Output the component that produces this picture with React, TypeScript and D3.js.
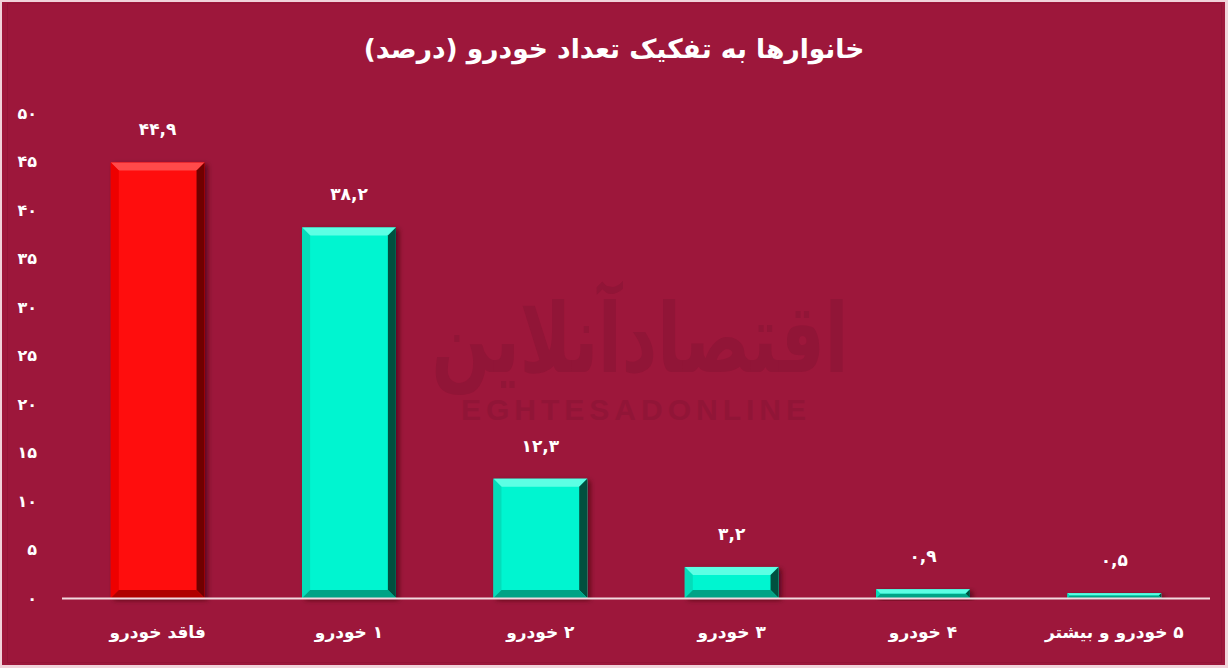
import React from "react";
import * as d3 from "d3";

const categories = ["فاقد خودرو", "۱ خودرو", "۲ خودرو", "۳ خودرو", "۴ خودرو", "۵ خودرو و بیشتر"];
const values = [44.9, 38.2, 12.3, 3.2, 0.9, 0.5];
const valueLabels = ["۴۴,۹", "۳۸,۲", "۱۲,۳", "۳,۲", "۰,۹", "۰,۵"];
const yTicks = [0, 5, 10, 15, 20, 25, 30, 35, 40, 45, 50];
const yTickLabels = ["۰", "۵", "۱۰", "۱۵", "۲۰", "۲۵", "۳۰", "۳۵", "۴۰", "۴۵", "۵۰"];
const highlight = [true, false, false, false, false, false];
const title = "خانوارها به تفکیک تعداد خودرو (درصد)";

const W = 1228;
const H = 668;
const BG = "#9d173b";
const FONT = "'DejaVu Sans', sans-serif";

export default function App() {
  const x = d3.scaleBand<number>().domain(d3.range(categories.length)).range([62, 1210]).paddingInner(0.51).paddingOuter(0.255);
  const y = d3.scaleLinear().domain([0, 50]).range([598, 113]);

  const pal = (hi: boolean) =>
    hi
      ? { main: "#ff0808", top: "#ff4a4a", left: "#ee0000", right: "#700000", bottom: "#b00000" }
      : { main: "#06f5d0", top: "#5cffe4", left: "#05dcba", right: "#00503f", bottom: "#01a386" };

  return (
    <svg width={W} height={H} style={{ position: "absolute", left: 0, top: 0 }} fontFamily={FONT}>
      <defs>
        <filter id="sh" x="-20%" y="-20%" width="150%" height="150%">
          <feDropShadow dx="3" dy="2" stdDeviation="2.5" floodColor="#3a0010" floodOpacity="0.7" />
        </filter>
      </defs>
      <rect x={0} y={0} width={W} height={H} fill="#f1d3da" />
      <rect x={2} y={2} width={W - 5} height={H - 5} fill={BG} />
      <rect x={7.5} y={3.5} width={W - 14} height={H - 9} fill="none" stroke="#8a1233" strokeWidth={1} opacity={0.5} />

      {/* watermark */}
      <g fill="#911537">
        <text x={0} y={0} textAnchor="middle" fontSize={96} fontWeight="bold" fontFamily={FONT} transform="translate(640,372) scale(0.72,1)">
          اقتصادآنلاین
        </text>
        <text x={636} y={420} textAnchor="middle" fontSize={30} fontWeight="bold" letterSpacing={5} fontFamily="'Liberation Sans', sans-serif">
          EGHTESADONLINE
        </text>
      </g>

      <text x={614} y={58} textAnchor="middle" fill="#ffffff" fontSize={26.5} fontWeight="bold" direction="rtl">
        {title}
      </text>

      {yTicks.map((t, i) => (
        <text key={t} x={37} y={y(t)} dy="0.35em" textAnchor="end" fill="#ffffff" fontSize={16} fontWeight="bold">
          {yTickLabels[i]}
        </text>
      ))}

      {values.map((v, i) => {
        const x0 = x(i)!;
        const x1 = x0 + x.bandwidth();
        const y0 = y(v);
        const y1 = y(0);
        const b = Math.min(8, (y1 - y0) / 2);
        const c = pal(highlight[i]);
        const pts = (a: number[][]) => a.map((p) => p.join(",")).join(" ");
        return (
          <g key={i}>
            <g filter="url(#sh)">
              <rect x={x0} y={y0} width={x1 - x0} height={y1 - y0} fill={c.main} />
            </g>
            <polygon points={pts([[x0, y0], [x1, y0], [x1 - b, y0 + b], [x0 + b, y0 + b]])} fill={c.top} />
            <polygon points={pts([[x0, y0], [x0 + b, y0 + b], [x0 + b, y1 - b], [x0, y1]])} fill={c.left} />
            <polygon points={pts([[x1, y0], [x1, y1], [x1 - b, y1 - b], [x1 - b, y0 + b]])} fill={c.right} />
            <polygon points={pts([[x0, y1], [x1, y1], [x1 - b, y1 - b], [x0 + b, y1 - b]])} fill={c.bottom} />
            <text x={x0 + x.bandwidth() / 2} y={y0 - 27} textAnchor="middle" fill="#ffffff" fontSize={17} fontWeight="bold" direction="ltr">
              {valueLabels[i]}
            </text>
            <text x={x0 + x.bandwidth() / 2} y={638} textAnchor="middle" fill="#ffffff" fontSize={17} fontWeight="bold" direction="rtl">
              {categories[i]}
            </text>
          </g>
        );
      })}

      <line x1={62} x2={1210} y1={y(0) + 0.5} y2={y(0) + 0.5} stroke="#f3d9df" strokeWidth={2} />
    </svg>
  );
}
